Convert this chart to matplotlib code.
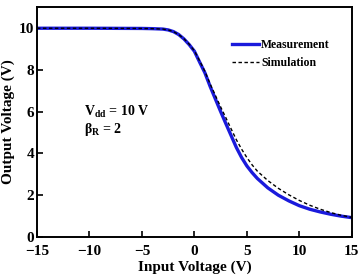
import matplotlib
matplotlib.use("Agg")
import matplotlib.pyplot as plt

# measured transfer curve
vin_meas = [-15, -10, -5, -4, -3, -2.5, -2, -1.5, -1, -0.5, 0, 0.5, 1, 1.5, 2, 2.5, 3, 3.5, 4, 4.5, 5, 5.5,
            6, 7, 8, 9, 10, 11, 12, 13, 14, 15]
vout_meas = [9.98, 9.98, 9.97, 9.96, 9.94, 9.9, 9.82, 9.68, 9.47, 9.2, 8.88, 8.36, 7.85, 7.2, 6.6, 6.0, 5.42,
             4.85, 4.28, 3.8, 3.4, 3.08, 2.8, 2.35, 2.0, 1.73, 1.5, 1.33, 1.2, 1.09, 1.0, 0.93]

# simulated transfer curve
vin_sim = [-15, -10, -5, -4, -3, -2.5, -2, -1.5, -1, -0.5, 0, 0.5, 1, 1.5, 2, 2.5, 3, 3.5, 4, 4.5, 5, 5.5,
           6, 7, 8, 9, 10, 11, 12, 13, 14, 15]
vout_sim = [9.98, 9.98, 9.97, 9.96, 9.94, 9.9, 9.82, 9.68, 9.48, 9.22, 8.9, 8.42, 7.92, 7.32, 6.77, 6.22, 5.7,
            5.17, 4.65, 4.2, 3.8, 3.45, 3.15, 2.7, 2.33, 2.02, 1.75, 1.52, 1.33, 1.17, 1.04, 0.94]

xticks = [-15, -10, -5, 0, 5, 10, 15]
yticks = [0, 2, 4, 6, 8, 10]

plt.rcParams["font.family"] = "Liberation Serif"
plt.rcParams["font.weight"] = "bold"
plt.rcParams["mathtext.fontset"] = "custom"
plt.rcParams["mathtext.rm"] = "Liberation Serif:bold"
plt.rcParams["mathtext.it"] = "Liberation Serif:bold"
plt.rcParams["mathtext.bf"] = "Liberation Serif:bold"

fig = plt.figure(figsize=(3.59, 2.76), dpi=100)
ax = fig.add_axes([0.103, 0.141, 0.877, 0.834])

ax.plot(vin_meas, vout_meas, color="#1a1adc", lw=2.4, label="Measurement")
ax.plot(vin_sim, vout_sim, color="black", lw=1.0, ls=(0, (2.5, 1.8)), label="Simulation")

ax.set_xlim(-15, 15)
ax.set_ylim(0, 11)
ax.set_xticks(xticks)
ax.set_yticks(yticks)
ax.tick_params(direction="in", length=4, width=1.2, labelsize=11)
ax.tick_params(axis="x", pad=5.5)
ax.tick_params(axis="y", pad=2)
for s in ax.spines.values():
    s.set_linewidth(1.4)

ax.set_xlabel("Input Voltage (V)", fontsize=11, fontweight="bold", labelpad=2)
ax.set_ylabel("Output Voltage (V)", fontsize=11, fontweight="bold", labelpad=3)

ax.text(-10.5, 6.0, r"V$_{\mathrm{dd}}$ = 10 V", fontsize=10, fontweight="bold", va="center")
ax.text(-10.5, 5.15, r"$\beta_{\mathrm{R}}$ = 2", fontsize=10, fontweight="bold", va="center")

ax.legend(loc="upper left", bbox_to_anchor=(0.62, 0.86), frameon=False, fontsize=8.5,
          handlelength=2.3, handletextpad=0.15, labelspacing=0.5, borderaxespad=0, borderpad=0)

fig.savefig("out.png", dpi=100)
